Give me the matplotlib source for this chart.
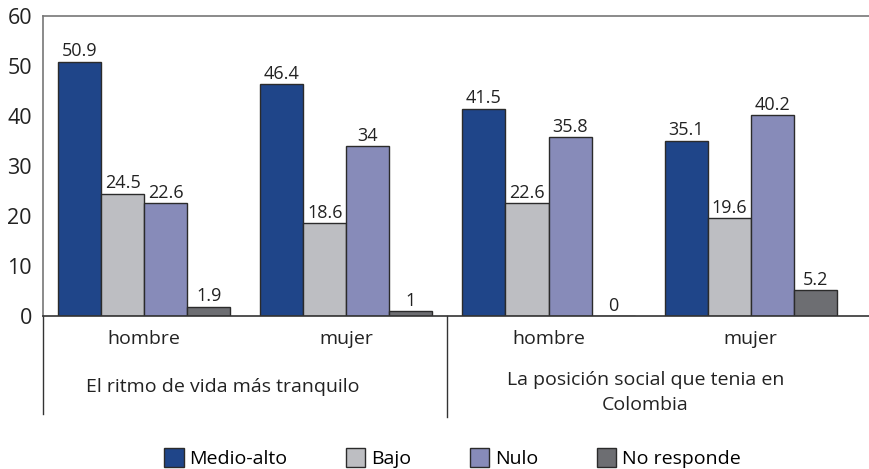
import numpy as np
import matplotlib.pyplot as plt
from matplotlib.transforms import blended_transform_factory

plt.rcParams['font.family'] = ['Liberation Sans Narrow', 'Open Sans', 'DejaVu Sans']

sexes = ["hombre", "mujer", "hombre", "mujer"]
groups = ["El ritmo de vida más tranquilo", "La posición social que tenia en\nColombia"]
series = ["Medio-alto", "Bajo", "Nulo", "No responde"]
medio_alto = [50.9, 46.4, 41.5, 35.1]
bajo = [24.5, 18.6, 22.6, 19.6]
nulo = [22.6, 34, 35.8, 40.2]
no_responde = [1.9, 1, 0, 5.2]
colors = ["#1f4589", "#bdbec2", "#878bb9", "#6d6e72"]

fig = plt.figure(figsize=(8.7, 4.69), dpi=100)
ax = fig.add_axes([43 / 870, 1 - 316 / 469, 827 / 870, 300 / 469])

x = np.arange(len(sexes))
w = 0.213
for i, (vals, name) in enumerate(zip([medio_alto, bajo, nulo, no_responde], series)):
    bars = ax.bar(x + (i - 1.5) * w, vals, w, color=colors[i], edgecolor="#2b2b2b",
                  linewidth=1, label=name)
    ax.bar_label(bars, labels=[f"{v:g}" for v in vals], padding=1, fontsize=13, color="#222222")

ax.set_xlim(-0.5, 3.59)
ax.set_ylim(0, 60)
ax.set_yticks(range(0, 61, 10))
ax.tick_params(axis="y", length=0, labelsize=15.5, labelcolor="#222222", pad=8)
ax.set_xticks([])
for s in ["top", "left", "bottom"]:
    ax.spines[s].set_color("#777777")
    ax.spines[s].set_linewidth(1.2)
ax.spines["bottom"].set_color("#333333")
ax.spines["right"].set_visible(False)

# category labels below axis
tr = blended_transform_factory(ax.transData, ax.transAxes)
for xi, s in zip(x, sexes):
    ax.text(xi, -0.075, s, transform=tr, ha="center", va="center", fontsize=14, color="#222222")
ax.text(0.39, -0.235, groups[0], transform=tr, ha="center", va="center", fontsize=14, color="#222222")
ax.text(2.48, -0.255, groups[1], transform=tr, ha="center", va="center", fontsize=14,
        color="#222222", linespacing=1.5)
ax.plot([-0.5, -0.5], [0, -0.327], transform=tr, color="#333333", lw=1, clip_on=False)
ax.plot([1.5, 1.5], [0, -0.337], transform=tr, color="#333333", lw=1, clip_on=False)

fig.legend(loc="lower center", bbox_to_anchor=(0.52, -0.035), ncol=4, frameon=False,
           fontsize=14, handlelength=1.0, handleheight=1.1, handletextpad=0.3,
           columnspacing=3.0)

fig.savefig("out.png", dpi=100)
